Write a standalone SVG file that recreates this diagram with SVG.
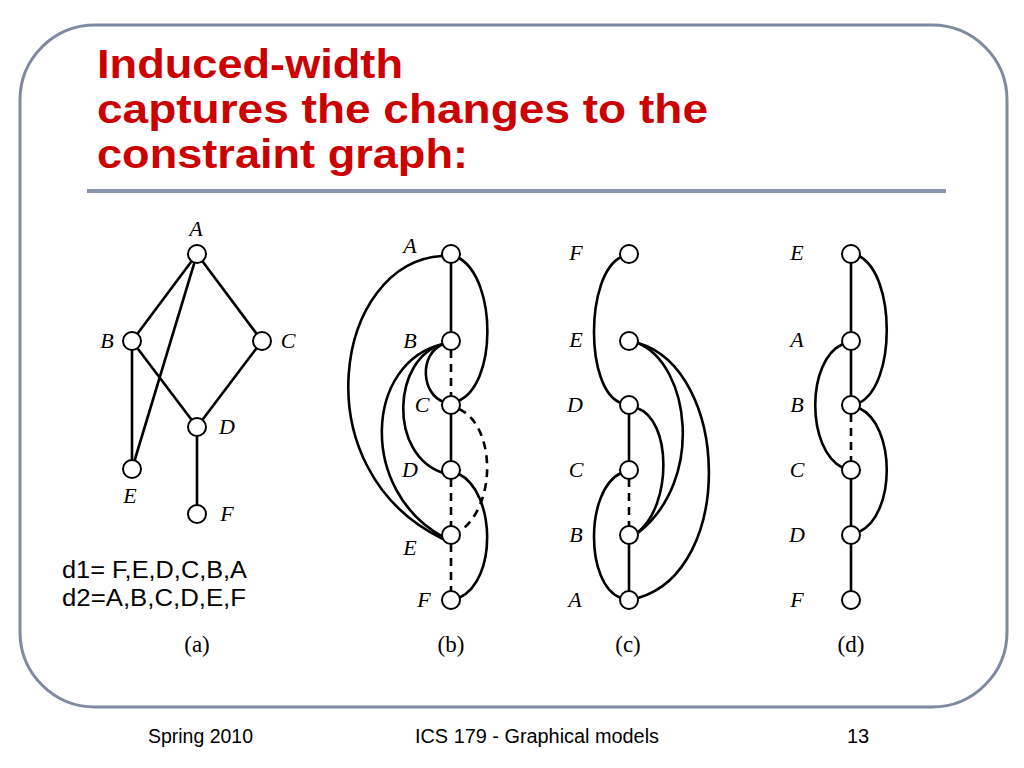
<svg xmlns="http://www.w3.org/2000/svg" width="1024" height="768" viewBox="0 0 1024 768">
<style>
.frame{fill:none;stroke:#7F89A0;stroke-width:3}
.title{font-family:"Liberation Sans",Arial,sans-serif;font-weight:bold;font-size:41px;fill:#CC0000}
.e{fill:none;stroke:#000;stroke-width:2.6}
.d{fill:none;stroke:#000;stroke-width:2.6;stroke-dasharray:8,6}
.n{fill:#fff;stroke:#000;stroke-width:2}
.lb{font-family:"Liberation Serif","Times New Roman",serif;font-style:italic;font-size:22px;fill:#000}
.cap{font-family:"Liberation Serif","Times New Roman",serif;font-size:23px;fill:#000;text-anchor:middle}
.ord{font-family:"Liberation Sans",Arial,sans-serif;font-size:23px;fill:#000}
.foot{font-family:"Liberation Sans",Arial,sans-serif;font-size:20px;fill:#000}
</style>
<rect x="0" y="0" width="1024" height="768" fill="#fff"/>
<rect class="frame" x="20" y="25" width="987" height="682" rx="75" ry="75"/>
<g id="title">
<text class="title" x="97" y="78" textLength="306" lengthAdjust="spacingAndGlyphs">Induced-width</text>
<text class="title" x="97" y="123" textLength="611" lengthAdjust="spacingAndGlyphs">captures the changes to the</text>
<text class="title" x="97" y="168" textLength="371" lengthAdjust="spacingAndGlyphs">constraint graph:</text>
</g>
<line x1="87" y1="191" x2="946" y2="191" stroke="#8894AC" stroke-width="4"/>

<g id="connectors">
<!-- (a) -->
<line class="e" x1="197" y1="254" x2="132" y2="341"/>
<line class="e" x1="197" y1="254" x2="262" y2="341"/>
<line class="e" x1="197" y1="254" x2="132" y2="469"/>
<line class="e" x1="132" y1="341" x2="197" y2="427"/>
<line class="e" x1="262" y1="341" x2="197" y2="427"/>
<line class="e" x1="132" y1="341" x2="132" y2="469"/>
<line class="e" x1="197" y1="427" x2="197" y2="514"/>
<!-- (b) -->
<line class="e" x1="451" y1="254" x2="451" y2="341"/>
<line class="d" x1="451" y1="350" x2="451" y2="396"/>
<line class="e" x1="451" y1="405" x2="451" y2="470"/>
<line class="d" x1="451" y1="479" x2="451" y2="526"/>
<line class="d" x1="451" y1="544" x2="451" y2="591"/>
<path class="e" d="M442,256 C335,262 300,470 443,539"/>
<path class="e" d="M459,258 C497,280 497,385 458,401"/>
<path class="e" d="M443,344 C418,355 422,395 444,402"/>
<path class="e" d="M443,344 C392,358 388,455 443,473"/>
<path class="e" d="M443,344 C365,362 358,490 443,537"/>
<path class="d" d="M459,409 C495,425 498,505 459,532"/>
<path class="e" d="M459,474 C495,492 498,580 459,598"/>
<!-- (c) -->
<line class="e" x1="629" y1="405" x2="629" y2="470"/>
<line class="d" x1="629" y1="479" x2="629" y2="526"/>
<line class="e" x1="629" y1="535" x2="629" y2="600"/>
<path class="e" d="M621,257 C585,275 585,390 621,403"/>
<path class="e" d="M638,343 C690,365 705,480 638,533"/>
<path class="e" d="M638,343 C730,370 735,570 638,598"/>
<path class="e" d="M637,408 C672,420 672,505 638,532"/>
<path class="e" d="M621,473 C585,490 585,585 621,598"/>
<!-- (d) -->
<line class="e" x1="851" y1="254" x2="851" y2="405"/>
<line class="d" x1="851" y1="414" x2="851" y2="461"/>
<line class="e" x1="851" y1="470" x2="851" y2="600"/>
<path class="e" d="M859,256 C896,275 896,385 859,403"/>
<path class="e" d="M843,344 C806,360 806,450 843,468"/>
<path class="e" d="M859,408 C896,425 896,515 859,532"/>
</g>

<g id="graph-a">
<g id="a-A"><circle class="n" cx="197" cy="254" r="9"/><text class="lb" x="196" y="236" text-anchor="middle">A</text></g>
<g id="a-B"><circle class="n" cx="132" cy="341" r="9"/><text class="lb" x="107" y="348" text-anchor="middle">B</text></g>
<g id="a-C"><circle class="n" cx="262" cy="341" r="9"/><text class="lb" x="288" y="348" text-anchor="middle">C</text></g>
<g id="a-D"><circle class="n" cx="197" cy="427" r="9"/><text class="lb" x="227" y="434" text-anchor="middle">D</text></g>
<g id="a-E"><circle class="n" cx="132" cy="469" r="9"/><text class="lb" x="130" y="503" text-anchor="middle">E</text></g>
<g id="a-F"><circle class="n" cx="197" cy="514" r="9"/><text class="lb" x="227" y="521" text-anchor="middle">F</text></g>
</g>

<g id="graph-b">
<g id="b-A"><circle class="n" cx="451" cy="254" r="9"/><text class="lb" x="410" y="253" text-anchor="middle">A</text></g>
<g id="b-B"><circle class="n" cx="451" cy="341" r="9"/><text class="lb" x="410" y="348" text-anchor="middle">B</text></g>
<g id="b-C"><circle class="n" cx="451" cy="405" r="9"/><text class="lb" x="422" y="412" text-anchor="middle">C</text></g>
<g id="b-D"><circle class="n" cx="451" cy="470" r="9"/><text class="lb" x="410" y="477" text-anchor="middle">D</text></g>
<g id="b-E"><circle class="n" cx="451" cy="535" r="9"/><text class="lb" x="410" y="555" text-anchor="middle">E</text></g>
<g id="b-F"><circle class="n" cx="451" cy="600" r="9"/><text class="lb" x="424" y="607" text-anchor="middle">F</text></g>
</g>

<g id="graph-c">
<g id="c-F"><circle class="n" cx="629" cy="254" r="9"/><text class="lb" x="576" y="260" text-anchor="middle">F</text></g>
<g id="c-E"><circle class="n" cx="629" cy="341" r="9"/><text class="lb" x="576" y="347" text-anchor="middle">E</text></g>
<g id="c-D"><circle class="n" cx="629" cy="405" r="9"/><text class="lb" x="575" y="412" text-anchor="middle">D</text></g>
<g id="c-C"><circle class="n" cx="629" cy="470" r="9"/><text class="lb" x="576" y="477" text-anchor="middle">C</text></g>
<g id="c-B"><circle class="n" cx="629" cy="535" r="9"/><text class="lb" x="576" y="542" text-anchor="middle">B</text></g>
<g id="c-A"><circle class="n" cx="629" cy="600" r="9"/><text class="lb" x="575" y="607" text-anchor="middle">A</text></g>
</g>

<g id="graph-d">
<g id="d-E"><circle class="n" cx="851" cy="254" r="9"/><text class="lb" x="797" y="260" text-anchor="middle">E</text></g>
<g id="d-A"><circle class="n" cx="851" cy="341" r="9"/><text class="lb" x="797" y="347" text-anchor="middle">A</text></g>
<g id="d-B"><circle class="n" cx="851" cy="405" r="9"/><text class="lb" x="797" y="412" text-anchor="middle">B</text></g>
<g id="d-C"><circle class="n" cx="851" cy="470" r="9"/><text class="lb" x="797" y="477" text-anchor="middle">C</text></g>
<g id="d-D"><circle class="n" cx="851" cy="535" r="9"/><text class="lb" x="797" y="542" text-anchor="middle">D</text></g>
<g id="d-F"><circle class="n" cx="851" cy="600" r="9"/><text class="lb" x="797" y="607" text-anchor="middle">F</text></g>
</g>

<g id="orderings">
<text class="ord" x="62" y="578" textLength="185" lengthAdjust="spacingAndGlyphs">d1= F,E,D,C,B,A</text>
<text class="ord" x="62" y="606" textLength="184" lengthAdjust="spacingAndGlyphs">d2=A,B,C,D,E,F</text>
</g>

<g id="captions">
<text class="cap" x="197" y="652">(a)</text>
<text class="cap" x="451" y="652">(b)</text>
<text class="cap" x="628" y="652">(c)</text>
<text class="cap" x="851" y="652">(d)</text>
</g>

<g id="footer">
<text class="foot" x="148" y="743" textLength="105" lengthAdjust="spacingAndGlyphs">Spring 2010</text>
<text class="foot" x="415" y="743" textLength="244" lengthAdjust="spacingAndGlyphs">ICS 179 - Graphical models</text>
<text class="foot" x="858" y="743" text-anchor="middle">13</text>
</g>
</svg>
